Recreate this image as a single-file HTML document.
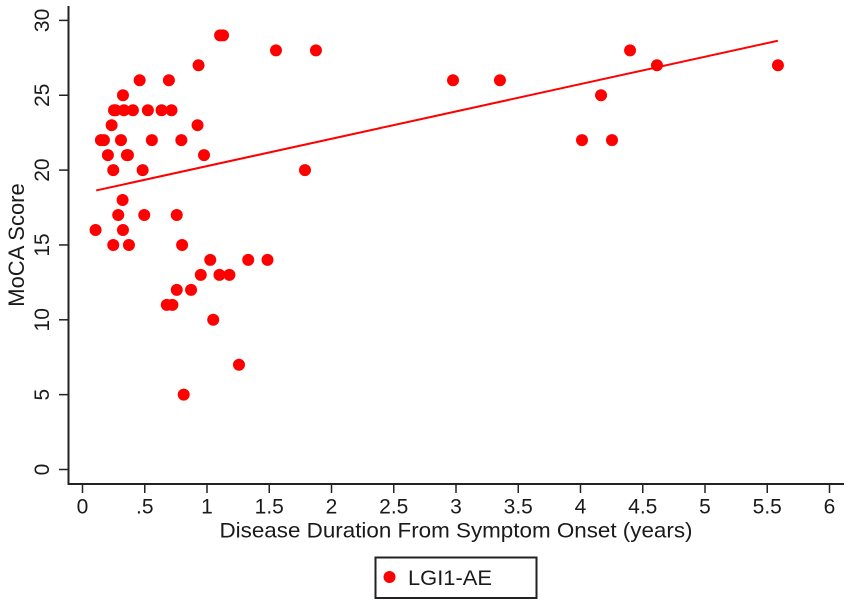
<!DOCTYPE html>
<html lang="en">
<head>
<meta charset="utf-8">
<title>MoCA Score vs Disease Duration</title>
<style>
html,body{margin:0;padding:0;background:#fff;width:851px;height:605px;overflow:hidden}
svg{display:block}
text{font-family:"Liberation Sans",Arial,sans-serif;fill:#1a1a1a}
</style>
</head>
<body>
<svg id="chart" width="851" height="605" viewBox="0 0 851 605" xmlns="http://www.w3.org/2000/svg">
  <rect x="0" y="0" width="851" height="605" fill="#fff"/>
  <g id="marks"></g>
  <g id="axes"></g>
  <text x="456" y="537.5" text-anchor="middle" font-size="21.5" textLength="473" lengthAdjust="spacingAndGlyphs">Disease Duration From Symptom Onset (years)</text>
  <text transform="translate(24,245) rotate(-90)" text-anchor="middle" font-size="22">MoCA Score</text>
  <g>
    <rect x="375.5" y="557.5" width="161" height="40.5" fill="#fff" stroke="#222" stroke-width="2"/>
    <circle cx="389.5" cy="577" r="6" fill="#ff0000"/>
    <text x="408" y="585" font-size="21.5" textLength="84" lengthAdjust="spacingAndGlyphs">LGI1-AE</text>
  </g>
</svg>
<script>
var durationYears = [0.105,0.148,0.172,0.204,0.234,0.247,0.247,0.253,0.265,0.287,0.309,0.325,0.322,0.325,0.333,0.357,0.365,0.373,0.405,0.459,0.483,0.496,0.525,0.557,0.635,0.694,0.677,0.722,0.715,0.757,0.757,0.794,0.800,0.813,0.872,0.924,0.932,0.950,0.976,1.026,1.050,1.100,1.105,1.129,1.180,1.257,1.331,1.486,1.554,1.787,1.875,2.976,3.353,4.012,4.165,4.253,4.398,4.614,5.586];
var mocaScores    = [16,22,22,21,23,20,15,24,24,17,22,25,18,16,24,21,21,15,24,26,20,17,24,22,24,26,11,11,24,17,12,22,15,5,12,23,27,13,21,14,10,13,29,29,13,7,14,14,28,20,28,26,26,22,25,22,28,27,27];
var fitLineX = [0.11,5.585];
var fitLineY = [18.64,28.64];
var xTickValues = [0,0.5,1,1.5,2,2.5,3,3.5,4,4.5,5,5.5,6];
var xTickLabels = ["0",".5","1","1.5","2","2.5","3","3.5","4","4.5","5","5.5","6"];
var yTickValues = [0,5,10,15,20,25,30];
var yTickLabels = ["0","5","10","15","20","25","30"];

var NS = "http://www.w3.org/2000/svg";
function xScale(v){ return 82.5 + v * 124.5; }
function yScale(v){ return 469.5 - v * 14.97; }
function make(tag, attrs, parent){
  var el = document.createElementNS(NS, tag);
  for (var k in attrs) el.setAttribute(k, attrs[k]);
  parent.appendChild(el);
  return el;
}
var marks = document.getElementById("marks");
var axes = document.getElementById("axes");
var AXIS = "#222";

durationYears.forEach(function(d, i){
  var c = make("circle", {cx: xScale(d), cy: yScale(mocaScores[i]), r: 6, fill: "#ff0000"}, marks);
  
  
});
var fit = make("line", {x1: xScale(fitLineX[0]), y1: yScale(fitLineY[0]), x2: xScale(fitLineX[1]), y2: yScale(fitLineY[1]), stroke: "#ff0000", "stroke-width": 2}, marks);



var yAxisLine = make("line", {x1: 68.5, y1: 6, x2: 68.5, y2: 485, stroke: AXIS, "stroke-width": 2}, axes);


var xAxisLine = make("line", {x1: 67.5, y1: 484, x2: 844, y2: 484, stroke: AXIS, "stroke-width": 2}, axes);



xTickValues.forEach(function(v, i){
  var px = xScale(v);
  var t = make("line", {x1: px, y1: 484, x2: px, y2: 493, stroke: AXIS, "stroke-width": 1.5}, axes);
  
  
  var l = make("text", {x: px, y: 513.5, "text-anchor": "middle", "font-size": 21}, axes);
  l.textContent = xTickLabels[i];
  
  
});
yTickValues.forEach(function(v, i){
  var py = yScale(v);
  var t = make("line", {x1: 59, y1: py, x2: 68, y2: py, stroke: AXIS, "stroke-width": 1.5}, axes);
  
  
  var l = make("text", {transform: "translate(49," + py + ") rotate(-90)", "text-anchor": "middle", "font-size": 21}, axes);
  l.textContent = yTickLabels[i];
  
  
});
</script>
</body>
</html>
